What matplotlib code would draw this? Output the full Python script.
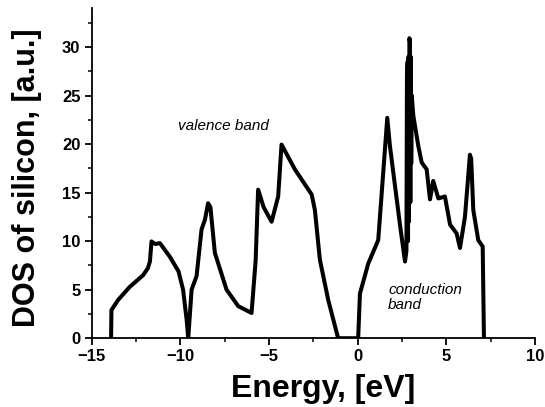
import matplotlib
matplotlib.use("Agg")
import matplotlib.pyplot as plt
from matplotlib.ticker import MultipleLocator

energy = [-13.9, -13.88, -13.5, -12.84, -12.09, -11.83, -11.71, -11.62, -11.4, -11.15, -10.59, -10.1, -9.84, -9.64, -9.55,
          -9.36, -9.08, -8.8, -8.61, -8.43, -8.3, -8.05, -7.39, -6.73, -5.98,
          -5.75, -5.61, -5.3, -4.85, -4.48, -4.29, -3.54, -2.59, -2.41, -2.13, -1.66, -1.1,
          -0.5, 0.03, 0.13, 0.6, 1.16, 1.44, 1.67, 1.82, 2.05, 2.4, 2.67, 2.75,
          2.78, 2.82, 2.84, 2.87, 2.89, 2.92, 2.95, 2.97, 2.99, 3.02, 3.05, 3.14, 3.42, 3.61, 3.89, 4.08, 4.26, 4.55, 4.92,
          5.21, 5.58, 5.77, 6.05, 6.33, 6.4, 6.52, 6.8, 7.05, 7.12]
dos = [0.0, 2.9, 3.95, 5.3, 6.5, 7.2, 7.9, 9.97, 9.7, 9.8, 8.4, 6.9, 5.0, 1.9, 0.0,
       5.0, 6.4, 11.2, 12.2, 13.9, 13.5, 8.8, 5.0, 3.3, 2.6,
       8.0, 15.3, 13.5, 12.0, 14.6, 19.95, 17.4, 14.8, 13.2, 8.1, 3.95, 0.0,
       0.0, 0.0, 4.6, 7.7, 10.1, 17.0, 22.7, 19.8, 16.5, 11.5, 7.9, 9.0,
       27.0, 28.5, 10.0, 29.0, 12.0, 30.9, 30.5, 14.0, 29.0, 18.0, 25.0, 22.9, 19.8, 18.1, 17.4, 14.3, 16.2, 14.4, 14.6,
       11.7, 10.8, 9.3, 12.5, 18.9, 18.5, 13.2, 10.1, 9.45, 0.0]

x_ticks = [-15, -10, -5, 0, 5, 10]
y_ticks = [0, 5, 10, 15, 20, 25, 30]

fig = plt.figure(figsize=(5.45, 4.07), dpi=100)
ax = fig.add_axes([0.168, 0.169, 0.8137, 0.811])
ax.plot(energy, dos, color="black", lw=2.9, solid_joinstyle="round")

ax.set_xlim(-15, 10)
ax.set_ylim(0, 34)
ax.set_xticks(x_ticks)
ax.set_yticks(y_ticks)
ax.xaxis.set_minor_locator(MultipleLocator(2.5))
ax.yaxis.set_minor_locator(MultipleLocator(2.5))
for s in ["top", "right"]:
    ax.spines[s].set_visible(False)
for s in ["left", "bottom"]:
    ax.spines[s].set_linewidth(1.3)
ax.tick_params(which="major", direction="out", length=5, width=1.3, labelsize=12, pad=3)
ax.tick_params(which="minor", direction="out", length=3, width=1.1)
for lab in ax.get_xticklabels() + ax.get_yticklabels():
    lab.set_fontweight("bold")
    lab.set_family("Liberation Sans")

ax.set_xlabel("Energy, [eV]", fontsize=23, fontweight="bold", family="Liberation Sans")
ax.set_ylabel("DOS of silicon, [a.u.]", fontsize=22, fontweight="bold", family="Liberation Sans")
ax.xaxis.set_label_coords(0.5225, -0.107)
ax.yaxis.set_label_coords(-0.111, 0.485)

ax.text(-10.1, 21.9, "valence band", fontsize=11, style="italic", family="Liberation Sans",
        va="center", ha="left")
ax.text(1.72, 4.2, "conduction\nband", fontsize=11, style="italic", family="Liberation Sans",
        va="center", ha="left", linespacing=1.1)

fig.savefig("out.png", dpi=100)
